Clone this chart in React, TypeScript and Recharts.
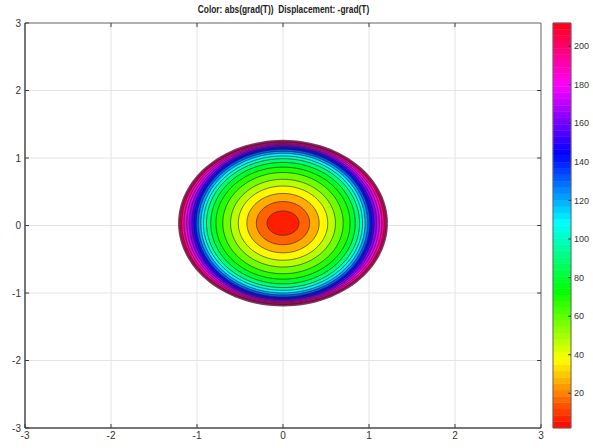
import React from 'react';
import { ScatterChart, Scatter, XAxis, YAxis, CartesianGrid, ComposedChart, ReferenceArea, ReferenceLine } from 'recharts';

// ---- data ----
const xTicks = [-3, -2, -1, 0, 1, 2, 3];
const yTicks = [-3, -2, -1, 0, 1, 2, 3];
const colorbarTicks = [20, 40, 60, 80, 100, 120, 140, 160, 180, 200];
const colorMin = 2;
const colorMax = 212;
// contour levels of |grad T| and the (displaced) half-widths / half-heights where each is reached
const contourLevels = [10.5, 21, 31.5, 42, 52.5, 63, 73.5, 84, 94.5, 105, 115.5, 126, 136.5, 147, 157.5, 168, 178.5, 189, 199.5];
const contourRadiiX = [0.186, 0.31, 0.42, 0.52, 0.61, 0.7, 0.78, 0.84, 0.89, 0.925, 0.955, 0.985, 1.01, 1.035, 1.06, 1.09, 1.12, 1.15, 1.178];
const contourRadiiY = [0.18, 0.32, 0.44, 0.55, 0.65, 0.75, 0.83, 0.9, 0.955, 0.995, 1.035, 1.065, 1.095, 1.115, 1.135, 1.152, 1.167, 1.18, 1.197];
const edgeLevel = 212;
const edgeRadiusX = 1.205;
const edgeRadiusY = 1.215;
const center = { x: 0, y: 0.035 };
const title = 'Color: abs(grad(T))  Displacement: -grad(T)';

// hsv colormap over [colorMin, colorMax]
const hsv = (v: number) => {
  const t = Math.max(0, Math.min(1, (v - colorMin) / (colorMax - colorMin)));
  return `hsl(${(t * 355).toFixed(1)}, 100%, 50%)`;
};

const SEGMENTS = 64;
const colorbarSegments = Array.from({ length: SEGMENTS }, (_, i) => {
  const lo = colorMin + ((colorMax - colorMin) * i) / SEGMENTS;
  const hi = colorMin + ((colorMax - colorMin) * (i + 1)) / SEGMENTS;
  return { lo, hi, color: hsv((lo + hi) / 2) };
});

const outline = (rx: number, ry: number) =>
  Array.from({ length: 121 }, (_, i) => {
    const a = (i / 120) * Math.PI * 2;
    return { x: center.x + rx * Math.cos(a), y: center.y + ry * Math.sin(a) };
  });

// disks drawn from outside to inside
const allRx = [...contourRadiiX, edgeRadiusX];
const allRy = [...contourRadiiY, edgeRadiusY];
const allLevels = [...contourLevels, edgeLevel];
const disks = allRx
  .map((rx, i) => {
    const lower = i === 0 ? colorMin : allLevels[i - 1];
    const upper = allLevels[i];
    return { rx, ry: allRy[i], color: hsv((lower + upper) / 2), edge: i === allRx.length - 1 };
  })
  .reverse();

const Empty = () => <g />;
const font = 'Liberation Sans, Arial, sans-serif';
const axisColor = '#3a3a3a';
const tickStyle = { fontSize: 10, fill: '#333', fontFamily: font };
const colorbarData = [
  { x: 0, y: colorMin },
  { x: 1, y: colorMax },
];

export default function App() {
  return (
    <div style={{ position: 'absolute', left: 0, top: 0, width: 593, height: 448, background: '#fff' }}>
      <div
        style={{
          position: 'absolute',
          left: 0,
          width: 567,
          top: 3,
          textAlign: 'center',
          fontFamily: font,
          fontWeight: 'bold',
          fontSize: 11,
          color: '#222',
          transform: 'scaleX(0.76)',
          whiteSpace: 'pre',
        }}
      >
        {title}
      </div>
      <div style={{ position: 'absolute', left: 0, top: 0 }}>
        <ScatterChart width={593} height={448} margin={{ top: 23, right: 52, bottom: 5, left: 5 }}>
          <CartesianGrid stroke="#e4e4e4" strokeWidth={1} />
          <XAxis
            type="number"
            dataKey="x"
            domain={[-3, 3]}
            ticks={xTicks}
            allowDataOverflow
            height={15}
            tickSize={-4}
            tickMargin={8}
            axisLine={{ stroke: axisColor }}
            tickLine={{ stroke: axisColor }}
            tick={tickStyle}
            interval={0}
          />
          <YAxis
            type="number"
            dataKey="y"
            domain={[-3, 3]}
            ticks={yTicks}
            allowDataOverflow
            width={20}
            tickSize={-4}
            tickMargin={8}
            axisLine={{ stroke: axisColor }}
            tickLine={{ stroke: axisColor }}
            tick={tickStyle}
            interval={0}
          />
          <ReferenceArea x1={-3} x2={3} y1={-3} y2={3} fill="none" stroke="#707070" strokeWidth={1} ifOverflow="visible" />
          {yTicks.slice(1, -1).map((t) => (
            <ReferenceLine
              key={'ry' + t}
              segment={[
                { x: 3, y: t },
                { x: 2.955, y: t },
              ]}
              stroke={axisColor}
              ifOverflow="visible"
            />
          ))}
          {xTicks.slice(1, -1).map((t) => (
            <ReferenceLine
              key={'tx' + t}
              segment={[
                { x: t, y: 3 },
                { x: t, y: 2.94 },
              ]}
              stroke={axisColor}
              ifOverflow="visible"
            />
          ))}
          {disks.map((d, i) => (
            <Scatter
              key={i}
              data={outline(d.rx, d.ry)}
              shape={Empty}
              isAnimationActive={false}
              lineJointType="linear"
              line={{
                fill: d.color,
                stroke: d.edge ? '#6a1248' : '#1a1a1a',
                strokeWidth: d.edge ? 2.6 : 0.7,
                strokeOpacity: d.edge ? 0.85 : 0.85,
              }}
            />
          ))}
        </ScatterChart>
      </div>
      <div style={{ position: 'absolute', left: 548, top: 0 }}>
        <ComposedChart width={45} height={448} data={colorbarData} margin={{ top: 23, right: 0, bottom: 20, left: 5 }}>
          <XAxis type="number" dataKey="x" domain={[0, 1]} hide />
          <YAxis
            type="number"
            orientation="right"
            domain={[colorMin, colorMax]}
            ticks={colorbarTicks}
            allowDataOverflow
            width={22}
            tickSize={-3}
            tickMargin={6}
            axisLine={false}
            tickLine={{ stroke: '#333' }}
            tick={{ ...tickStyle, fontSize: 9, textAnchor: 'start' }}
            interval={0}
          />
          {colorbarSegments.map((s, i) => (
            <ReferenceArea
              key={i}
              x1={0}
              x2={1}
              y1={s.lo}
              y2={s.hi}
              fill={s.color}
              fillOpacity={1}
              stroke={s.color}
              strokeWidth={0.5}
              ifOverflow="visible"
            />
          ))}
          <ReferenceArea x1={0} x2={1} y1={colorMin} y2={colorMax} fill="none" stroke="#666" strokeWidth={1} ifOverflow="visible" />
        </ComposedChart>
      </div>
    </div>
  );
}
